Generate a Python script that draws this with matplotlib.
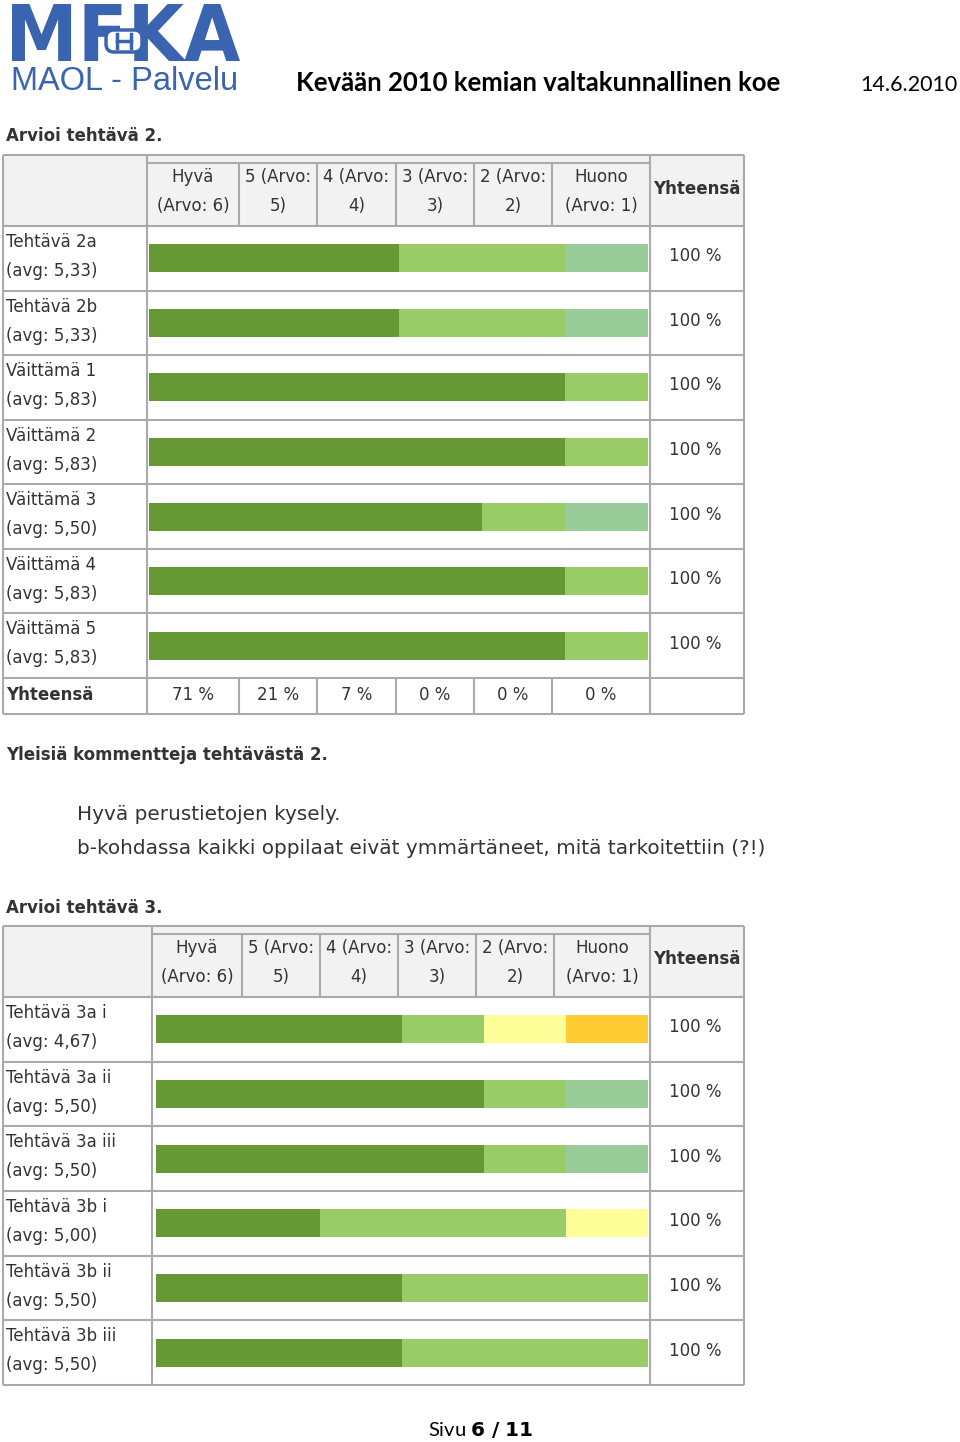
import numpy as np
import matplotlib
matplotlib.use("Agg")
import matplotlib.pyplot as plt
from matplotlib.textpath import TextPath
from matplotlib.patches import PathPatch, FancyBboxPatch
from matplotlib.font_manager import FontProperties
from matplotlib.transforms import Affine2D

# --- data ---
grades = ["Hyvä\n(Arvo: 6)", "5 (Arvo:\n5)", "4 (Arvo:\n4)", "3 (Arvo:\n3)",
          "2 (Arvo:\n2)", "Huono\n(Arvo: 1)"]
grade_colors = ["#669933", "#99cc66", "#99cc99", "#ffff99", "#ffcc33", "#ff6633"]

cats2 = ["Tehtävä 2a", "Tehtävä 2b", "Väittämä 1", "Väittämä 2", "Väittämä 3",
         "Väittämä 4", "Väittämä 5"]
avg2 = ["5,33", "5,33", "5,83", "5,83", "5,50", "5,83", "5,83"]
# percentages for grades 6,5,4,3,2,1
vals2 = [[50.0, 33.3, 16.7, 0, 0, 0],
         [50.0, 33.3, 16.7, 0, 0, 0],
         [83.3, 16.7, 0, 0, 0, 0],
         [83.3, 16.7, 0, 0, 0, 0],
         [66.7, 16.7, 16.7, 0, 0, 0],
         [83.3, 16.7, 0, 0, 0, 0],
         [83.3, 16.7, 0, 0, 0, 0]]
sum2 = [100, 100, 100, 100, 100, 100, 100]
totals2 = [71, 21, 7, 0, 0, 0]

cats3 = ["Tehtävä 3a i", "Tehtävä 3a ii", "Tehtävä 3a iii", "Tehtävä 3b i",
         "Tehtävä 3b ii", "Tehtävä 3b iii"]
avg3 = ["4,67", "5,50", "5,50", "5,00", "5,50", "5,50"]
vals3 = [[50.0, 16.7, 0, 16.7, 16.7, 0],
         [66.7, 16.7, 16.7, 0, 0, 0],
         [66.7, 16.7, 16.7, 0, 0, 0],
         [33.3, 50.0, 0, 16.7, 0, 0],
         [50.0, 50.0, 0, 0, 0, 0],
         [50.0, 50.0, 0, 0, 0, 0]]
sum3 = [100, 100, 100, 100, 100, 100]

comments2 = ["Hyvä perustietojen kysely.",
             "b-kohdassa kaikki oppilaat eivät ymmärtäneet, mitä tarkoitettiin (?!)"]

W, H = 960, 1442
TXT = "#333333"
LINE = "#aaaaaa"
HEAD_BG = "#f2f2f2"
BLUE = "#3a64b0"
FONT = "DejaVu Sans"
FS = 12

fig = plt.figure(figsize=(W / 100, H / 100), dpi=100)
page = fig.add_axes([0, 0, 1, 1])
page.set_xlim(0, W)
page.set_ylim(H, 0)
page.axis("off")


def px_axes(x0, y0, x1, y1):
    return fig.add_axes([x0 / W, 1 - y1 / H, (x1 - x0) / W, (y1 - y0) / H])


def hline(y, x0, x1):
    page.plot([x0, x1], [y, y], color=LINE, lw=1.5, solid_capstyle="butt", zorder=3)


def vline(x, y0, y1):
    page.plot([x, x], [y0, y1], color=LINE, lw=1.5, solid_capstyle="butt", zorder=3)


def fitted_text(s, x0, y0, x1, y1, color, weight="bold"):
    # text path stretched to fill a pixel box (page y axis points down)
    tp = TextPath((0, 0), s, size=10, prop=FontProperties(family=FONT, weight=weight))
    ext = tp.get_extents()
    sx = (x1 - x0) / ext.width
    sy = (y1 - y0) / ext.height
    tr = Affine2D().translate(-ext.x0, -ext.y0).scale(sx, -sy).translate(x0, y1)
    page.add_patch(PathPatch(tr.transform_path(tp), facecolor=color,
                             edgecolor="none", zorder=4))


def draw_table(title, title_y, cats, avgs, vals, sums, cols, top, head_bot,
               row_h, bar_x, totals=None):
    left, right = 3, 744
    page.text(6, title_y, title, fontsize=FS, fontweight="bold", color=TXT,
              family=FONT, va="center")
    n = len(cats)
    body_bot = head_bot + n * row_h
    bot = body_bot + (36 if totals is not None else 0)

    # header background
    page.add_patch(plt.Rectangle((left, top), right - left, head_bot - top,
                                 facecolor=HEAD_BG, edgecolor="none", zorder=1))
    inner = top + 8
    hline(top, left, right)
    hline(inner, cols[0], cols[-1])
    hline(head_bot, left, right)
    for i in range(1, n + 1):
        hline(head_bot + i * row_h, left, right)
    if totals is not None:
        hline(bot, left, right)
    vline(left, top, bot)
    vline(right, top, bot)
    vline(cols[0], top, bot)
    vline(cols[-1], top, bot)
    for c in cols[1:-1]:
        vline(c, inner, head_bot)
        if totals is not None:
            vline(c, body_bot, bot)

    # header texts
    for j, g in enumerate(grades):
        cx = (cols[j] + cols[j + 1]) / 2
        l1, l2 = g.split("\n")
        page.text(cx, top + 22, l1, ha="center", va="center", fontsize=FS,
                  color=TXT, family=FONT)
        page.text(cx, top + 51, l2, ha="center", va="center", fontsize=FS,
                  color=TXT, family=FONT)
    page.text((cols[-1] + right) / 2, (top + head_bot) / 2 - 2, "Yhteensä",
              ha="center", va="center", fontsize=FS, fontweight="bold",
              color=TXT, family=FONT)

    # row labels and sums
    for i, (c, a, s) in enumerate(zip(cats, avgs, sums)):
        y0 = head_bot + i * row_h
        page.text(6, y0 + 16, c, va="center", fontsize=FS, color=TXT, family=FONT)
        page.text(6, y0 + 45, f"(avg: {a})", va="center", fontsize=FS,
                  color=TXT, family=FONT)
        page.text((cols[-1] + right) / 2 - 2, y0 + row_h / 2 - 2, f"{s} %",
                  ha="center", va="center", fontsize=FS, color=TXT, family=FONT)

    if totals is not None:
        ym = (body_bot + bot) / 2 - 1
        page.text(6, ym, "Yhteensä", va="center", fontsize=FS,
                  fontweight="bold", color=TXT, family=FONT)
        for j, t in enumerate(totals):
            cx = (cols[j] + cols[j + 1]) / 2
            page.text(cx, ym, f"{t} %", ha="center", va="center", fontsize=FS,
                      color=TXT, family=FONT)

    # stacked bars
    bax = px_axes(bar_x[0], head_bot, bar_x[1], body_bot)
    bax.patch.set_alpha(0)
    data = np.array(vals)
    ypos = np.arange(n) + 0.5
    lefts = np.zeros(n)
    for j in range(data.shape[1]):
        bax.barh(ypos, data[:, j], left=lefts, height=28 / row_h,
                 color=grade_colors[j], edgecolor="none")
        lefts += data[:, j]
    bax.set_xlim(0, 100)
    bax.set_ylim(n, 0)
    bax.axis("off")


# --- page header (logo) ---
fitted_text("MFKA", 12, 4, 240, 61, BLUE)
page.add_patch(FancyBboxPatch((108, 32), 32, 18, boxstyle="round,pad=2,rounding_size=8",
                              facecolor="white", edgecolor=BLUE, lw=2.5, zorder=5))
for hx in (117, 131):
    page.plot([hx, hx], [34, 48], color=BLUE, lw=2.5, zorder=6)
page.plot([117, 131], [41, 41], color=BLUE, lw=2.5, zorder=6)
page.text(11, 90, "MAOL - Palvelu", fontsize=23.5, color=BLUE,
          family="Liberation Sans", va="baseline")
page.text(296, 91, "Kevään 2010 kemian valtakunnallinen koe", fontsize=18.5,
          fontweight="bold", color="black", family="Lato", va="baseline")
page.text(958, 91, "14.6.2010", fontsize=15.5, color="black", family="Lato",
          ha="right", va="baseline")

draw_table("Arvioi tehtävä 2.", 136, cats2, avg2, vals2, sum2,
           [147, 239, 317, 396, 474, 552, 650], 155, 226, 64.57, (149, 648),
           totals=totals2)

page.text(6, 755, "Yleisiä kommentteja tehtävästä 2.", fontsize=FS,
          fontweight="bold", color=TXT, family=FONT, va="center")
for k, line in enumerate(comments2):
    page.text(77, 815 + k * 33, line, fontsize=14.4, color=TXT, family=FONT,
              va="center")

draw_table("Arvioi tehtävä 3.", 908, cats3, avg3, vals3, sum3,
           [152, 242, 320, 398, 476, 554, 650], 926, 997, 64.67, (156, 648))

# footer
page.text(481, 1436, "Sivu $\\bf{6\\ /\\ 11}$", fontsize=14.5, color="black",
          family="Lato", ha="center", va="baseline")

fig.savefig("out.png", dpi=100)
